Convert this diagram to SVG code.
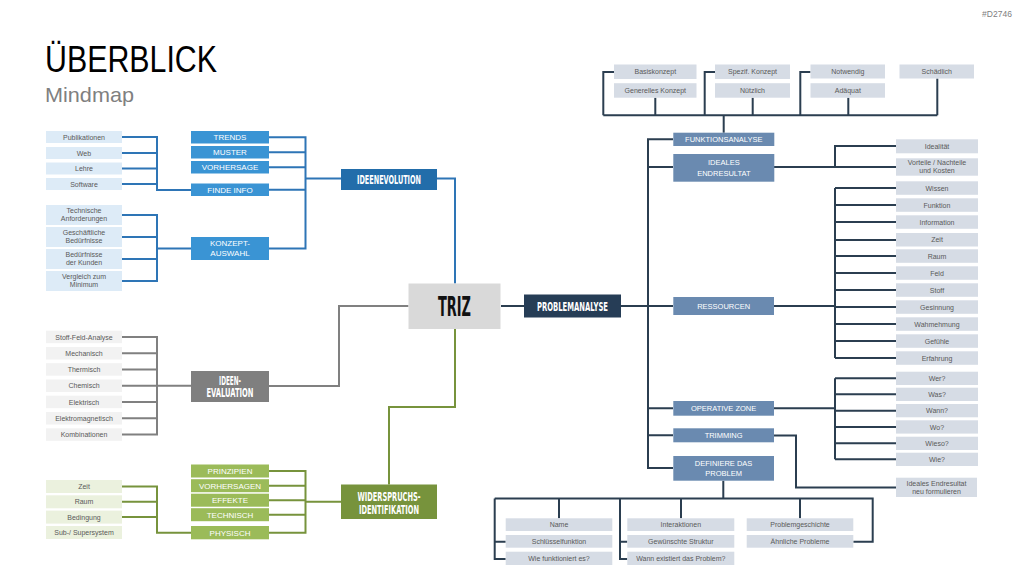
<svg xmlns="http://www.w3.org/2000/svg" width="1024" height="576" viewBox="0 0 1024 576">
<style>
text{font-family:'Liberation Sans',Arial,sans-serif;text-anchor:middle}
.t{font-size:7px;fill:#595959}
.m{font-size:8px;fill:#fff}
.r{font-size:7.5px;fill:#fff}
.h{font-family:'DejaVu Sans Condensed','DejaVu Sans',sans-serif;font-weight:bold;fill:#fff}
.lb{fill:#DDEBF7}.mb{fill:#3A94D4}.lg{fill:#F2F2F2}.lgr{fill:#EBF1DE}.mg{fill:#9BBB59}.ls{fill:#D6DCE5}.ms{fill:#6A8AB0}
.c{fill:none;stroke-width:2}
.cb{stroke:#2E75B6}.cg{stroke:#808080}.cgr{stroke:#77933C}.cn{stroke:#2B3E50}
</style>
<rect width="1024" height="576" fill="#fff"/>
<text x="45" y="72" font-size="36" fill="#000" style="text-anchor:start" textLength="172" lengthAdjust="spacingAndGlyphs">ÜBERBLICK</text>
<text x="45" y="102" font-size="21" fill="#808080" style="text-anchor:start" textLength="89" lengthAdjust="spacingAndGlyphs">Mindmap</text>
<text x="997" y="17" font-size="8.5" fill="#808080">#D2746</text>

<g id="connectors">
<path class="c cb" d="M122 137H157V190H191M122 153H157M122 168.5H157M122 184H157"/>
<path class="c cb" d="M122 215H157V281H122M122 237H157M122 259H157M157 248.5H191"/>
<path class="c cb" d="M269 137.3H305.5V248.5H269M269 152.3H305.5M269 167.3H305.5M269 189.8H305.5M305.5 178.5H341"/>
<path class="c cb" d="M437 178.5H455V283.5"/>
<path class="c cg" d="M408.5 306H339V386H269"/>
<path class="c cg" d="M122 337H157V434.5H122M122 353.3H157M122 369.5H157M122 385.8H157M122 402H157M122 418.2H157M157 385.8H191"/>
<path class="c cgr" d="M455 329V407H389V484.5"/>
<path class="c cgr" d="M122 486.5H157V532.7H191M122 501.8H157M122 517.1H157"/>
<path class="c cgr" d="M269 471H305.5V532.7H269M269 485.7H305.5M269 500.2H305.5M269 514.7H305.5M305.5 501.7H341"/>
<path class="c cn" d="M501 306H524M621 306H648"/>
<path class="c cn" d="M673 139.3H648V468H673M648 167H673M648 306H673M648 408.3H673M648 435.3H673"/>
<path class="c cn" d="M723.7 132.7V115.3M603.3 115.3H937.3M614 72H603.3V115.3M655.3 97.7V115.3M715 72H704.7V115.3M752.7 97.7V115.3M810.5 72H800.3V115.3M848.3 97.7V115.3M937.3 78.5V115.3"/>
<path class="c cn" d="M774 167H835V146H896M835 167H896"/>
<path class="c cn" d="M774 306H835M835 188V358M835 188H896M835 205H896M835 222H896M835 240H896M835 256H896M835 273H896M835 290H896M835 307H896M835 324H896M835 341H896M835 358H896"/>
<path class="c cn" d="M774 408.3H835M835 378.3V459.3M835 378.3H896M835 394.3H896M835 410.7H896M835 427H896M835 443.3H896M835 459.3H896"/>
<path class="c cn" d="M774 435.5H796V487.5H896"/>
<path class="c cn" d="M723.3 480.7V498.5M494.7 498.5H872.7V541.7H853.3M494.7 498.5V559H505.7M494.7 541.7H505.7M559 498.5V518.3M620 498.5V559H627.3M620 541.7H627.3M681 498.5V518.3M800 498.5V518.3"/>
</g>

<g id="triz"><rect x="408.5" y="283.5" width="92" height="45.5" fill="#D9D9D9"/><text class="h" x="454.5" y="316" font-size="27" fill="#111" style="fill:#111" textLength="33" lengthAdjust="spacingAndGlyphs">TRIZ</text></g>
<g id="ideenevolution"><rect x="341" y="169" width="96" height="21" fill="#226DAA"/><text class="h" x="389" y="184" font-size="12" textLength="64" lengthAdjust="spacingAndGlyphs">IDEENEVOLUTION</text></g>
<g id="ideenevaluation"><rect x="191" y="371" width="78" height="31" fill="#7F7F7F"/><text class="h" x="230" y="384.5" font-size="11.5" textLength="22" lengthAdjust="spacingAndGlyphs">IDEEN-</text><text class="h" x="230" y="396.5" font-size="11.5" textLength="47" lengthAdjust="spacingAndGlyphs">EVALUATION</text></g>
<g id="widerspruch"><rect x="341" y="484.5" width="96" height="34.5" fill="#77933C"/><text class="h" x="389" y="500.5" font-size="11.5" textLength="63" lengthAdjust="spacingAndGlyphs">WIDERSPRUCHS-</text><text class="h" x="389" y="513.5" font-size="11.5" textLength="60" lengthAdjust="spacingAndGlyphs">IDENTIFIKATION</text></g>
<g id="problemanalyse"><rect x="524" y="294.5" width="97" height="23" fill="#263D56"/><text class="h" x="572.5" y="310.5" font-size="12" textLength="71" lengthAdjust="spacingAndGlyphs">PROBLEMANALYSE</text></g>

<g id="trends"><rect class="mb" x="191" y="131" width="78" height="12.5"/><text class="m" x="230" y="140.2">TRENDS</text></g>
<g id="muster"><rect class="mb" x="191" y="146" width="78" height="12.5"/><text class="m" x="230" y="155.2">MUSTER</text></g>
<g id="vorhersage"><rect class="mb" x="191" y="161" width="78" height="12.5"/><text class="m" x="230" y="170.2">VORHERSAGE</text></g>
<g id="findeinfo"><rect class="mb" x="191" y="183.5" width="78" height="12.5"/><text class="m" x="230" y="192.7">FINDE INFO</text></g>
<g id="konzeptauswahl"><rect class="mb" x="191" y="237" width="78" height="23"/><text class="m" x="230" y="246">KONZEPT-</text><text class="m" x="230" y="255.5">AUSWAHL</text></g>

<g id="publikationen"><rect class="lb" x="46" y="131" width="76" height="12"/><text class="t" x="84" y="139.5">Publikationen</text></g>
<g id="web"><rect class="lb" x="46" y="147" width="76" height="12"/><text class="t" x="84" y="155.5">Web</text></g>
<g id="lehre"><rect class="lb" x="46" y="162.5" width="76" height="12"/><text class="t" x="84" y="171">Lehre</text></g>
<g id="software"><rect class="lb" x="46" y="178" width="76" height="12"/><text class="t" x="84" y="186.5">Software</text></g>
<g id="techanf"><rect class="lb" x="46" y="205" width="76" height="20"/><text class="t" x="84" y="213.3">Technische</text><text class="t" x="84" y="221.3">Anforderungen</text></g>
<g id="geschbed"><rect class="lb" x="46" y="227" width="76" height="20"/><text class="t" x="84" y="235.3">Geschäftliche</text><text class="t" x="84" y="243.3">Bedürfnisse</text></g>
<g id="kundenbed"><rect class="lb" x="46" y="249" width="76" height="20"/><text class="t" x="84" y="257.3">Bedürfnisse</text><text class="t" x="84" y="265.3">der Kunden</text></g>
<g id="vergleich"><rect class="lb" x="46" y="271" width="76" height="20"/><text class="t" x="84" y="279.3">Vergleich zum</text><text class="t" x="84" y="287.3">Minimum</text></g>

<g id="stofffeld"><rect class="lg" x="46" y="330.7" width="76" height="12.5"/><text class="t" x="84" y="339.5">Stoff-Feld-Analyse</text></g>
<g id="mechanisch"><rect class="lg" x="46" y="347" width="76" height="12.5"/><text class="t" x="84" y="355.8">Mechanisch</text></g>
<g id="thermisch"><rect class="lg" x="46" y="363.2" width="76" height="12.5"/><text class="t" x="84" y="372">Thermisch</text></g>
<g id="chemisch"><rect class="lg" x="46" y="379.5" width="76" height="12.5"/><text class="t" x="84" y="388.3">Chemisch</text></g>
<g id="elektrisch"><rect class="lg" x="46" y="395.7" width="76" height="12.5"/><text class="t" x="84" y="404.5">Elektrisch</text></g>
<g id="elektromag"><rect class="lg" x="46" y="412" width="76" height="12.5"/><text class="t" x="84" y="420.8">Elektromagnetisch</text></g>
<g id="kombinationen"><rect class="lg" x="46" y="428.3" width="76" height="12.5"/><text class="t" x="84" y="437">Kombinationen</text></g>

<g id="prinzipien"><rect class="mg" x="191" y="464.5" width="78" height="13"/><text class="m" x="230" y="473.8">PRINZIPIEN</text></g>
<g id="vorhersagen"><rect class="mg" x="191" y="479.2" width="78" height="13"/><text class="m" x="230" y="488.5">VORHERSAGEN</text></g>
<g id="effekte"><rect class="mg" x="191" y="493.7" width="78" height="13"/><text class="m" x="230" y="503">EFFEKTE</text></g>
<g id="technisch"><rect class="mg" x="191" y="508.2" width="78" height="13"/><text class="m" x="230" y="517.5">TECHNISCH</text></g>
<g id="physisch"><rect class="mg" x="191" y="526" width="78" height="13.3"/><text class="m" x="230" y="535.5">PHYSISCH</text></g>
<g id="zeit-g"><rect class="lgr" x="46" y="480" width="76" height="13"/><text class="t" x="84" y="489">Zeit</text></g>
<g id="raum-g"><rect class="lgr" x="46" y="495.3" width="76" height="13"/><text class="t" x="84" y="504.3">Raum</text></g>
<g id="bedingung"><rect class="lgr" x="46" y="510.6" width="76" height="13"/><text class="t" x="84" y="519.6">Bedingung</text></g>
<g id="subsuper"><rect class="lgr" x="46" y="526" width="76" height="13"/><text class="t" x="84" y="535">Sub-/ Supersystem</text></g>

<g id="basiskonzept"><rect class="ls" x="614" y="64.5" width="82.5" height="14.5"/><text class="t" x="655.3" y="74.2">Basiskonzept</text></g>
<g id="generelles"><rect class="ls" x="614" y="83.2" width="82.5" height="14.5"/><text class="t" x="655.3" y="92.9">Generelles Konzept</text></g>
<g id="spezif"><rect class="ls" x="715" y="64.5" width="75" height="14.5"/><text class="t" x="752.5" y="74.2">Spezif. Konzept</text></g>
<g id="nuetzlich"><rect class="ls" x="715" y="83.2" width="75" height="14.5"/><text class="t" x="752.5" y="92.9">Nützlich</text></g>
<g id="notwendig"><rect class="ls" x="810.5" y="64.5" width="74.5" height="14"/><text class="t" x="847.8" y="74">Notwendig</text></g>
<g id="adaequat"><rect class="ls" x="810.5" y="83.2" width="74.5" height="14.5"/><text class="t" x="847.8" y="92.9">Adäquat</text></g>
<g id="schaedlich"><rect class="ls" x="899.5" y="64.5" width="74.5" height="14"/><text class="t" x="936.8" y="74">Schädlich</text></g>

<g id="funktionsanalyse"><rect class="ms" x="673.3" y="132.7" width="101" height="13.3"/><text class="r" x="723.8" y="142">FUNKTIONSANALYSE</text></g>
<g id="ideales"><rect class="ms" x="673.3" y="154" width="101" height="27.7"/><text class="r" x="723.8" y="165">IDEALES</text><text class="r" x="723.8" y="175.5">ENDRESULTAT</text></g>
<g id="ressourcen"><rect class="ms" x="673.3" y="297" width="100.7" height="18"/><text class="r" x="723.6" y="308.7">RESSOURCEN</text></g>
<g id="operative"><rect class="ms" x="673.3" y="401" width="100.7" height="14.7"/><text class="r" x="723.6" y="411">OPERATIVE ZONE</text></g>
<g id="trimming"><rect class="ms" x="673.3" y="428.3" width="100.7" height="14"/><text class="r" x="723.6" y="438">TRIMMING</text></g>
<g id="definiere"><rect class="ms" x="673.3" y="456" width="100.7" height="24.7"/><text class="r" x="723.6" y="465.5">DEFINIERE DAS</text><text class="r" x="723.6" y="476">PROBLEM</text></g>

<g id="idealitaet"><rect class="ls" x="896" y="139.3" width="82" height="14"/><text class="t" x="937" y="148.7">Idealität</text></g>
<g id="vorteile"><rect class="ls" x="896" y="158.3" width="82" height="17.4"/><text class="t" x="937" y="165.3">Vorteile / Nachteile</text><text class="t" x="937" y="173.3">und Kosten</text></g>

<g id="wissen"><rect class="ls" x="896" y="181.3" width="82" height="13.5"/><text class="t" x="937" y="190.5">Wissen</text></g>
<g id="funktion"><rect class="ls" x="896" y="198.3" width="82" height="13.5"/><text class="t" x="937" y="207.5">Funktion</text></g>
<g id="information"><rect class="ls" x="896" y="215.3" width="82" height="13.5"/><text class="t" x="937" y="224.5">Information</text></g>
<g id="zeit-r"><rect class="ls" x="896" y="233" width="82" height="13.5"/><text class="t" x="937" y="242.3">Zeit</text></g>
<g id="raum-r"><rect class="ls" x="896" y="249.3" width="82" height="13.5"/><text class="t" x="937" y="258.5">Raum</text></g>
<g id="feld"><rect class="ls" x="896" y="266.3" width="82" height="13.5"/><text class="t" x="937" y="275.5">Feld</text></g>
<g id="stoff"><rect class="ls" x="896" y="283.3" width="82" height="13.5"/><text class="t" x="937" y="292.5">Stoff</text></g>
<g id="gesinnung"><rect class="ls" x="896" y="300.3" width="82" height="13.5"/><text class="t" x="937" y="309.5">Gesinnung</text></g>
<g id="wahmehmung"><rect class="ls" x="896" y="317.3" width="82" height="13.5"/><text class="t" x="937" y="326.5">Wahmehmung</text></g>
<g id="gefuehle"><rect class="ls" x="896" y="334.3" width="82" height="13.5"/><text class="t" x="937" y="343.5">Gefühle</text></g>
<g id="erfahrung"><rect class="ls" x="896" y="351.3" width="82" height="13.5"/><text class="t" x="937" y="360.5">Erfahrung</text></g>

<g id="wer"><rect class="ls" x="896" y="371.7" width="82" height="13.3"/><text class="t" x="937" y="380.8">Wer?</text></g>
<g id="was"><rect class="ls" x="896" y="387.7" width="82" height="13.3"/><text class="t" x="937" y="396.8">Was?</text></g>
<g id="wann"><rect class="ls" x="896" y="404" width="82" height="13.3"/><text class="t" x="937" y="413.2">Wann?</text></g>
<g id="wo"><rect class="ls" x="896" y="420.3" width="82" height="13.3"/><text class="t" x="937" y="429.5">Wo?</text></g>
<g id="wieso"><rect class="ls" x="896" y="436.7" width="82" height="13.3"/><text class="t" x="937" y="445.8">Wieso?</text></g>
<g id="wie"><rect class="ls" x="896" y="452.7" width="82" height="13.3"/><text class="t" x="937" y="461.8">Wie?</text></g>
<g id="neuformulieren"><rect class="ls" x="896" y="477.7" width="81" height="19.3"/><text class="t" x="936.5" y="485.5">Ideales Endresultat</text><text class="t" x="936.5" y="494">neu formulieren</text></g>

<g id="name"><rect class="ls" x="505.7" y="518.3" width="106.6" height="12.7"/><text class="t" x="559" y="527.2">Name</text></g>
<g id="schluessel"><rect class="ls" x="505.7" y="535" width="106.6" height="12.7"/><text class="t" x="559" y="543.9">Schlüsselfunktion</text></g>
<g id="wiefunktioniert"><rect class="ls" x="505.7" y="551.7" width="106.6" height="13.3"/><text class="t" x="559" y="560.9">Wie funktioniert es?</text></g>
<g id="interaktionen"><rect class="ls" x="627.3" y="518.3" width="107" height="12.7"/><text class="t" x="680.8" y="527.2">Interaktionen</text></g>
<g id="gewuenscht"><rect class="ls" x="627.3" y="535" width="107" height="12.7"/><text class="t" x="680.8" y="543.9">Gewünschte Struktur</text></g>
<g id="wannexistiert"><rect class="ls" x="627.3" y="551.7" width="107" height="13.3"/><text class="t" x="680.8" y="560.9">Wann existiert das Problem?</text></g>
<g id="problemgeschichte"><rect class="ls" x="746.7" y="518.3" width="106.6" height="12.7"/><text class="t" x="800" y="527.2">Problemgeschichte</text></g>
<g id="aehnliche"><rect class="ls" x="746.7" y="535" width="106.6" height="12.7"/><text class="t" x="800" y="543.9">Ähnliche Probleme</text></g>
</svg>
